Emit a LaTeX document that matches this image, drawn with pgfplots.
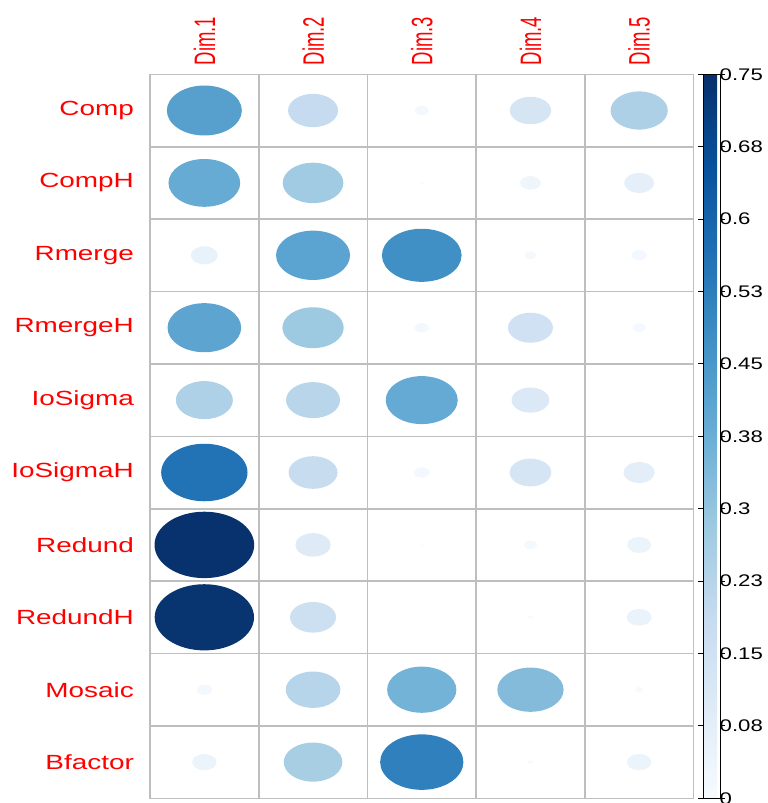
\documentclass[border=0pt]{standalone}
\usepackage{pgfplots}
\pgfplotsset{compat=1.18}
\usepackage{pgfplotstable}
\usepackage{graphicx}
\usepackage{fontspec}
\setmainfont{Liberation Sans}

\definecolor{gridgray}{RGB}{190,190,190}

% filled ellipse whose half-width is the mark size (cells are 1.5 times wider than tall)
\pgfdeclareplotmark{ell}{%
  \pgfpathellipse{\pgfpointorigin}{\pgfqpoint{\pgfplotmarksize}{0pt}}{\pgfqpoint{0pt}{0.6662\pgfplotmarksize}}%
  \pgfusepathqfill}

\newcommand\rowlab[1]{\scalebox{1.36}[1]{#1}}
\newcommand\collab[1]{\scalebox{1}[1.6]{#1}}
\newcommand\barlab[1]{\scalebox{1.32}[1]{#1}}

% loadings: column (dimension), row (variable), value
\pgfplotstableread{
x y v
1 1 0.422
2 1 0.1875
3 1 0.0147
4 1 0.128
5 1 0.246
1 2 0.386
2 2 0.276
3 2 0.0012
4 2 0.032
5 2 0.0675
1 3 0.0547
2 3 0.411
3 3 0.476
4 3 0.0103
5 3 0.0176
1 4 0.407
2 4 0.282
3 4 0.0147
4 4 0.152
5 4 0.0133
1 5 0.244
2 5 0.219
3 5 0.389
4 5 0.107
5 5 0.0007
1 6 0.559
2 6 0.180
3 6 0.0185
4 6 0.130
5 6 0.0735
1 7 0.745
2 7 0.0935
3 7 0.0008
4 7 0.0133
5 7 0.0432
1 8 0.740
2 8 0.159
3 8 0.0007
4 8 0.0019
5 8 0.0469
1 9 0.0176
2 9 0.224
3 9 0.360
4 9 0.330
5 9 0.005
1 10 0.0443
2 10 0.258
3 10 0.520
4 10 0.002
5 10 0.0443
}\loadings

\begin{document}
\begin{tikzpicture}
\useasboundingbox (0pt,0pt) rectangle (768pt,803pt);
\begin{axis}[
  at={(150pt,4.7pt)}, anchor=south west,
  scale only axis, width=543.5pt, height=724pt,
  xmin=0.5, xmax=5.5, ymin=0.5, ymax=10.5, y dir=reverse,
  xtick={1,2,3,4,5},
  xticklabels={\collab{Dim.1},\collab{Dim.2},\collab{Dim.3},\collab{Dim.4},\collab{Dim.5}},
  ytick={1,2,3,4,5,6,7,8,9,10},
  yticklabels={\rowlab{Comp},\rowlab{CompH},\rowlab{Rmerge},\rowlab{RmergeH},\rowlab{IoSigma},\rowlab{IoSigmaH},\rowlab{Redund},\rowlab{RedundH},\rowlab{Mosaic},\rowlab{Bfactor}},
  xticklabel pos=upper,
  major tick length=0pt, minor tick length=0pt,
  minor xtick={1.5,2.5,3.5,4.5},
  minor ytick={1.5,2.5,3.5,4.5,5.5,6.5,7.5,8.5,9.5},
  xminorgrids, yminorgrids,
  minor grid style={draw=gridgray, line width=1.6pt},
  axis line style={draw=gridgray, line width=1.6pt},
  xticklabel style={rotate=90, anchor=west, inner sep=0pt, text=red, font=\fontsize{18.5}{20}\selectfont},
  xticklabel shift=9pt,
  yticklabel style={anchor=east, inner sep=0pt, text=red, font=\fontsize{20.5}{24}\selectfont},
  yticklabel shift=16pt,
  colormap={blues}{rgb255=(247,251,255) rgb255=(222,235,247) rgb255=(198,219,239) rgb255=(158,202,225) rgb255=(107,174,214) rgb255=(66,146,198) rgb255=(33,113,181) rgb255=(8,81,156) rgb255=(8,48,107)},
  point meta min=0, point meta max=0.75,
  colorbar,
  colorbar style={
    at={(1.0175,1)}, anchor=north west, width=17pt,
    ytick={0,0.075,0.15,0.225,0.3,0.375,0.45,0.525,0.6,0.675,0.75},
    yticklabels={\barlab{0},\barlab{0.08},\barlab{0.15},\barlab{0.23},\barlab{0.3},\barlab{0.38},\barlab{0.45},\barlab{0.53},\barlab{0.6},\barlab{0.68},\barlab{0.75}},
    axis line style={draw=black, line width=0.9pt},
    major tick length=5pt, tick align=outside,
    tick style={black, line width=0.9pt},
    yticklabel pos=right,
    yticklabel style={anchor=west, inner sep=0pt, xshift=-5.5pt, font=\fontsize{16.8}{18}\selectfont},
  },
]
\addplot[scatter, only marks, mark=ell, point meta=\thisrow{v},
  scatter/use mapped color={draw=none, fill=mapped color},
  visualization depends on={50*sqrt(\thisrow{v}/0.75) \as \rad},
  scatter/@pre marker code/.append style={/tikz/mark size=\rad}] table {\loadings};
\end{axis}
\end{tikzpicture}
\end{document}
